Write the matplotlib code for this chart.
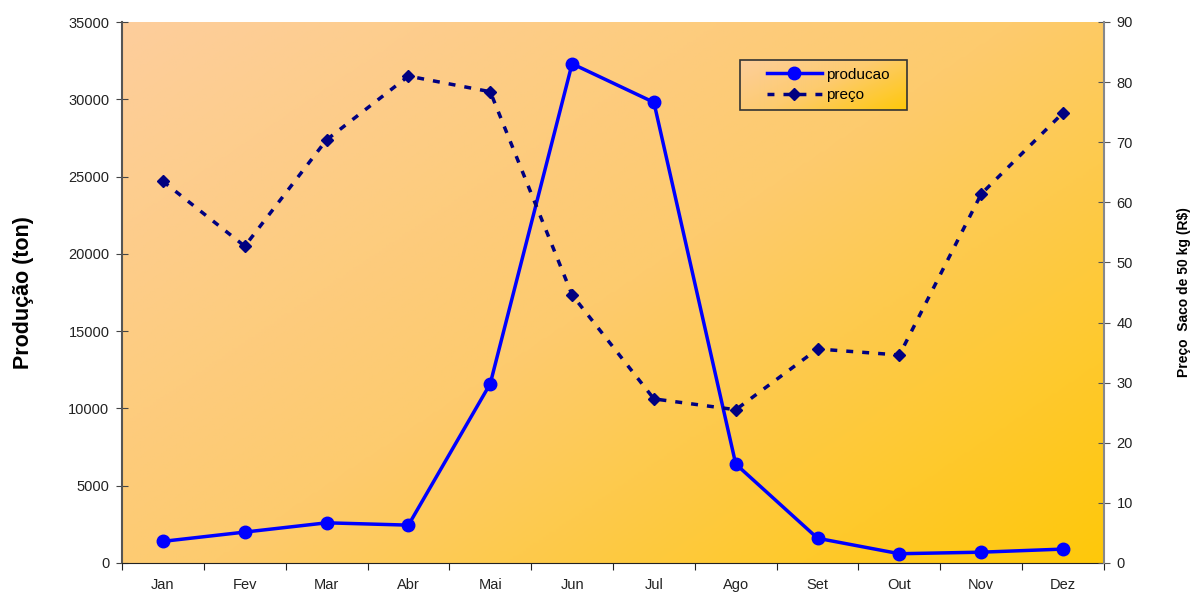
"""Producao mensal (ton) x preco do saco de 50 kg (R$)."""
import numpy as np
import matplotlib
matplotlib.use("Agg")
import matplotlib.pyplot as plt
from matplotlib.colors import LinearSegmentedColormap
from matplotlib.patches import Rectangle

plt.rcParams["font.family"] = ["Liberation Sans", "DejaVu Sans"]

meses = ["Jan", "Fev", "Mar", "Abr", "Mai", "Jun", "Jul", "Ago", "Set", "Out", "Nov", "Dez"]
producao = [1400, 2000, 2600, 2450, 11600, 32300, 29800, 6400, 1600, 600, 700, 900]
preco = [63.5, 52.7, 70.4, 81.0, 78.4, 44.6, 27.3, 25.5, 35.6, 34.6, 61.4, 74.9]

fundo = LinearSegmentedColormap.from_list("fundo", ["#FDCE9C", "#FDCB6E", "#FFC80A"])

fig = plt.figure(figsize=(11.94, 5.92), dpi=100)
ax = fig.add_axes([122 / 1194, 1 - 563 / 592, 982 / 1194, 541 / 592])
ax2 = ax.twinx()

# gradient background (top-left peach -> bottom-right gold)
u, v = np.meshgrid(np.linspace(0, 1, 300), np.linspace(1, 0, 200))
grad = (u * 0.55 + (1 - v) * 0.45)
ax.imshow(grad, cmap=fundo, extent=(0, 1, 0, 1), transform=ax.transAxes,
          aspect="auto", zorder=0, interpolation="bilinear")

x = np.arange(len(meses))
l1, = ax.plot(x, producao, color="#0000FF", lw=2.5, marker="o", ms=9,
              label="producao", zorder=3)
l2, = ax2.plot(x, preco, color="#000080", lw=2.5, ls=(0, (2.0, 2.6)),
               marker="D", ms=6.5, label="preço", zorder=3)

ax.set_xlim(-0.5, 11.5)
ax.set_ylim(0, 35000)
ax2.set_ylim(0, 90)
ax.set_yticks(range(0, 35001, 5000))
ax2.set_yticks(range(0, 91, 10))

ax.set_xticks(np.arange(-0.5, 12, 1))
ax.set_xticklabels([])
ax.set_xticks(x, minor=True)
ax.set_xticklabels(meses, minor=True)
ax.tick_params(axis="x", which="major", direction="out", length=5, color="#222")
ax.tick_params(axis="x", which="minor", length=0, pad=19, labelsize=10.5, labelcolor="#222")
for lab in ax.get_xticklabels(minor=True):
    lab.set_verticalalignment("baseline")
ax.tick_params(axis="y", direction="inout", length=8, color="#444", pad=5,
               labelsize=10.5, labelcolor="#222")
ax2.tick_params(axis="y", direction="inout", length=8, color="#555", pad=5,
                labelsize=10.5, labelcolor="#222")

for a in (ax, ax2):
    a.spines["top"].set_visible(False)
ax.spines["left"].set_color("#555")
ax.spines["left"].set_linewidth(1.5)
ax.spines["bottom"].set_color("#222")
ax.spines["right"].set_visible(False)
ax2.spines["left"].set_visible(False)
ax2.spines["bottom"].set_visible(False)
ax2.spines["right"].set_color("#888")
ax2.spines["right"].set_linewidth(1.5)

ax.set_ylabel("Produção (ton)", fontsize=15.5, fontweight="bold")
ax.yaxis.set_label_coords(-88 / 982, 0.5)
ax2.set_ylabel("Preço  Saco de 50 kg (R$)", fontsize=10, fontweight="bold")
ax2.yaxis.set_label_coords(1 + 73 / 982, 0.5)

# legend box with its own gradient
bx0, bx1 = (740 - 122) / 982, (907 - 122) / 982
by0, by1 = (563 - 110) / 541, (563 - 60) / 541
ax2.imshow(u * 0.6 + (1 - v) * 0.4, cmap=fundo, extent=(bx0, bx1, by0, by1),
           transform=ax2.transAxes, aspect="auto", zorder=4, interpolation="bilinear")
ax2.add_patch(Rectangle((bx0, by0), bx1 - bx0, by1 - by0, transform=ax2.transAxes,
                        fill=False, ec="#333", lw=1.2, zorder=5))
ax2.set_xlim(-0.5, 11.5)
leg = ax2.legend(handles=[l1, l2], loc="center", frameon=False, fontsize=11,
                 bbox_to_anchor=((bx0 + bx1) / 2 + 0.005, (by0 + by1) / 2),
                 handlelength=3.6, handletextpad=0.3, labelspacing=0.45)
leg.set_zorder(6)
ax.set_zorder(ax2.get_zorder() - 1)
ax2.patch.set_visible(False)

fig.savefig("out.png", dpi=100)
